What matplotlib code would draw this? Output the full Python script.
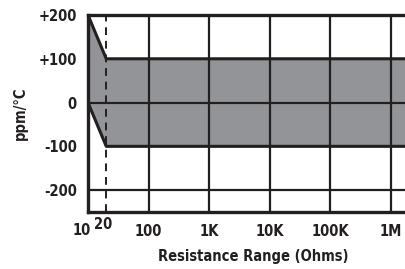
import matplotlib
matplotlib.use("Agg")
import matplotlib.pyplot as plt
from matplotlib.transforms import blended_transform_factory, offset_copy

# Data
band_x = [10, 20, 2.0e6]
band_upper = [200, 100, 100]
band_lower = [0, -100, -100]
xticks = [100, 1e3, 1e4, 1e5, 1e6]
xtick_labels = ["100", "1K", "10K", "100K", "1M"]
yticks = [-200, -100, 0, 100, 200]
ytick_labels = ["-200", "-100", "0", "+100", "+200"]
grid_x = [100, 1e3, 1e4, 1e5, 1e6]
grid_y = [0, -200]
dash_x = 20
start_x = 10

FONT = ["DejaVu Sans"]
STRETCH = "condensed"
dark = "#231f20"
gray = "#929497"
FS = 10.5

fig = plt.figure(figsize=(4.06, 2.69), dpi=100)
ax = fig.add_axes([88/406, 57/269, 1 - 88/406, (212-15)/269])
ax.set_xscale("log")
ax.set_xlim(10, 1.78e6)
ax.set_ylim(-250, 200)

ax.fill_between(band_x, band_lower, band_upper, color=gray, lw=0, zorder=1)
ax.plot(band_x, band_upper, color=dark, lw=2.2, zorder=3, solid_capstyle="butt")
ax.plot(band_x, band_lower, color=dark, lw=2.2, zorder=3, solid_capstyle="butt")

for gx in grid_x:
    ax.axvline(gx, color=dark, lw=1.6, zorder=2)
for gy in grid_y:
    ax.axhline(gy, color=dark, lw=1.6, zorder=2)
ax.axvline(dash_x, color=dark, lw=1.4, ls=(0, (4, 3)), zorder=4)

for s in ["top", "left", "bottom"]:
    ax.spines[s].set_linewidth(2.4)
    ax.spines[s].set_color(dark)
    ax.spines[s].set_zorder(5)
ax.spines["right"].set_visible(False)

ax.set_xticks(xticks)
ax.set_xticklabels(xtick_labels)
ax.set_yticks(yticks)
ax.set_yticklabels(ytick_labels)
ax.minorticks_off()
ax.tick_params(length=0, labelsize=FS, colors=dark, pad=9)
ax.tick_params(axis="y", pad=8)
for lab in ax.get_xticklabels() + ax.get_yticklabels():
    lab.set_fontfamily(FONT)
    lab.set_fontweight("bold")
    lab.set_fontstretch(STRETCH)

tr = blended_transform_factory(ax.transData, ax.transAxes)
ax.text(dash_x, -0.025, "20", transform=offset_copy(tr, fig, x=-3, y=0, units="dots"),
        ha="center", va="top", fontsize=FS, fontweight="bold", family=FONT,
        fontstretch=STRETCH, color=dark)
ax.text(start_x, -0.058, "10", transform=offset_copy(tr, fig, x=-6, y=0, units="dots"),
        ha="center", va="top", fontsize=FS, fontweight="bold", family=FONT,
        fontstretch=STRETCH, color=dark)

ax.set_xlabel("Resistance Range (Ohms)", fontsize=FS, fontweight="bold",
              family=FONT, fontstretch=STRETCH, color=dark)
ax.xaxis.set_label_coords((253-88)/(406-88), -(249-212)/197)
ax.set_ylabel("ppm/°C", fontsize=FS, fontweight="bold", family=FONT,
              fontstretch=STRETCH, color=dark)
ax.yaxis.set_label_coords(-(88-28)/(406-88), 0.5)

fig.savefig("out.png", dpi=100)
